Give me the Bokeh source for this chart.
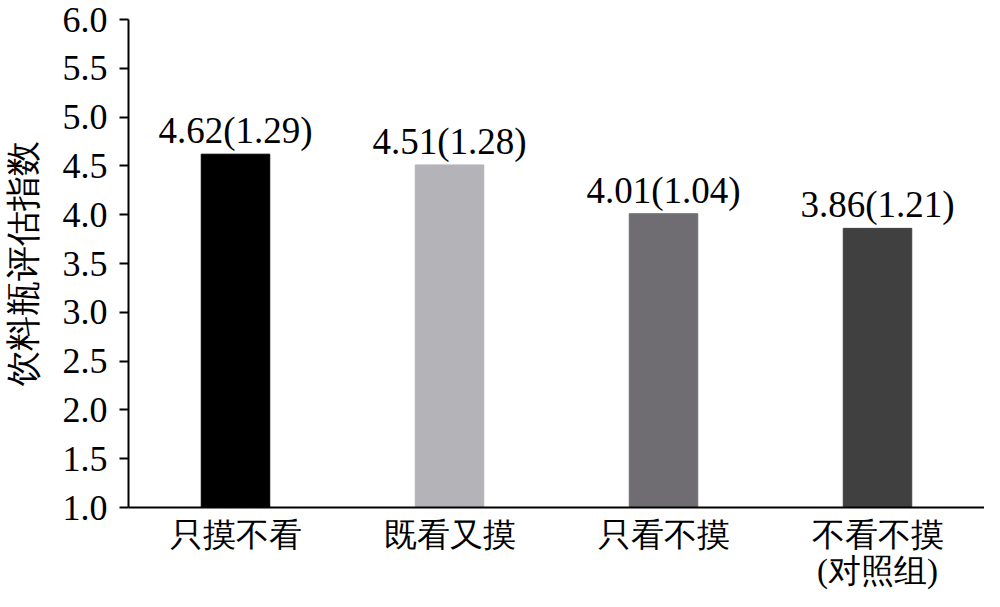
from bokeh.plotting import figure
from bokeh.models import ColumnDataSource, FixedTicker, NumeralTickFormatter
from bokeh.core.properties import value
from bokeh.embed import file_html
from bokeh.resources import INLINE

categories = ["只摸不看", "既看又摸", "只看不摸", "不看不摸\n(对照组)"]
means = [4.62, 4.51, 4.01, 3.86]
sds = [1.29, 1.28, 1.04, 1.21]
colors = ["#000000", "#b4b3b7", "#6f6d71", "#404040"]
y_ticks = [1.0, 1.5, 2.0, 2.5, 3.0, 3.5, 4.0, 4.5, 5.0, 5.5, 6.0]
y_label = "饮料瓶评估指数"

labels = [f"{m:.2f}({s:.2f})" for m, s in zip(means, sds)]
src = ColumnDataSource(dict(cat=categories, top=means, base=[1.0] * 4,
                            color=colors, label=labels))

SERIF = "Liberation Serif"

p = figure(x_range=categories, y_range=(1.0, 6.0), width=984, height=591,
           output_backend="svg", toolbar_location=None,
           min_border_left=122, min_border_right=0, min_border_top=19,
           min_border_bottom=0)
p.outline_line_color = None
p.xgrid.grid_line_color = None
p.ygrid.grid_line_color = None
p.background_fill_color = "white"

p.vbar(x="cat", top="top", bottom="base", width=0.32, color="color", source=src)
p.text(x="cat", y="top", text="label", source=src, text_align="center",
       text_baseline="bottom", y_offset=-3, text_font=value(SERIF),
       text_font_size="37px", text_color="black")

ya = p.yaxis[0]
ya.ticker = FixedTicker(ticks=y_ticks)
ya.formatter = NumeralTickFormatter(format="0.0")
ya.axis_line_width = 2
ya.axis_line_color = "black"
ya.major_tick_line_width = 2
ya.major_tick_line_color = "black"
ya.major_tick_out = 9
ya.major_tick_in = 0
ya.minor_tick_line_color = None
ya.major_label_standoff = 12
ya.major_label_text_font = SERIF
ya.major_label_text_font_size = "36px"
ya.major_label_text_color = "black"
ya.axis_label = y_label
ya.axis_label_text_font = SERIF
ya.axis_label_text_font_size = "35px"
ya.axis_label_text_font_style = "normal"
ya.axis_label_text_color = "black"
ya.axis_label_standoff = 17

xa = p.xaxis[0]
xa.axis_line_width = 2
xa.axis_line_color = "black"
xa.major_tick_line_color = None
xa.minor_tick_line_color = None
xa.major_label_standoff = 3
xa.major_label_text_font = SERIF
xa.major_label_text_font_size = "33px"
xa.major_label_text_color = "black"
xa.major_label_text_line_height = 1.0

open("out.html", "w").write(file_html(p, INLINE))
